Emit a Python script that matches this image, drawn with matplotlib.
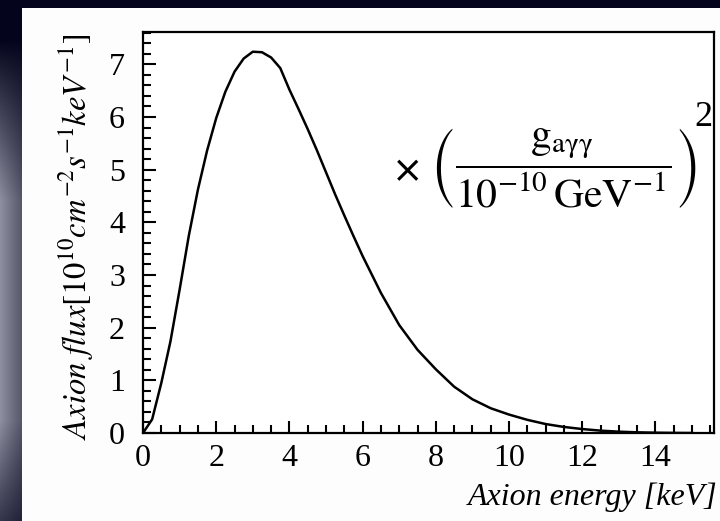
import numpy as np
import matplotlib
matplotlib.use("Agg")
import matplotlib.pyplot as plt
from matplotlib.patches import Rectangle
from matplotlib.ticker import MultipleLocator

# ---- data ----
energy = [0, 0.25, 0.5, 0.75, 1.0, 1.25, 1.5, 1.75, 2.0, 2.25, 2.5, 2.75, 3.0,
          3.25, 3.5, 3.75, 4.0, 4.25, 4.5, 4.75, 5.0, 5.25, 5.5, 5.75, 6.0,
          6.5, 7.0, 7.5, 8.0, 8.5, 9.0, 9.5, 10.0, 10.5, 11.0, 11.5, 12.0,
          12.5, 13.0, 13.5, 14.0, 14.5, 15.0]
flux = [0, 0.26, 0.95, 1.74, 2.72, 3.74, 4.62, 5.36, 5.98, 6.48, 6.86, 7.11,
        7.24, 7.23, 7.13, 6.93, 6.52, 6.15, 5.77, 5.37, 4.95, 4.53, 4.13, 3.74,
        3.36, 2.66, 2.05, 1.58, 1.21, 0.88, 0.64, 0.47, 0.35, 0.25, 0.17,
        0.115, 0.075, 0.045, 0.025, 0.013, 0.006, 0.002, 0.0]
x_ticks = [0, 2, 4, 6, 8, 10, 12, 14]
y_ticks = [0, 1, 2, 3, 4, 5, 6, 7]

plt.rcParams['mathtext.fontset'] = 'stix'
serif = 'Liberation Serif'

W, H = 720, 521
fig = plt.figure(figsize=(W / 100, H / 100), dpi=100)

# ---- background (dark navy with lighter left strip) ----
bg = fig.add_axes([0, 0, 1, 1], zorder=-10)
navy = np.array([4, 4, 28], float)
img = np.tile(navy, (H, W, 1))
yy = np.arange(H)
v = np.interp(yy, [0, 40, 200, 420, 521], [0, 0, 1, 1, 0.35])
edge_l = np.array([142, 142, 160], float)
edge_r = np.array([88, 88, 108], float)
for j in range(22):
    c = edge_l + (edge_r - edge_l) * j / 21
    img[:, j, :] = navy + v[:, None] * (c - navy)
bg.imshow(img / 255, aspect='auto', extent=[0, 1, 0, 1])
bg.axis('off')
fig.patches.append(Rectangle((22 / W, 0), 1 - 22 / W, (H - 8) / H,
                             transform=fig.transFigure, facecolor='#fdfdfd',
                             edgecolor='none', zorder=-5))

# ---- main axes ----
ax = fig.add_axes([143 / W, 88 / H, 571 / W, 401.3 / H])
ax.set_facecolor('white')
ax.plot(energy, flux, color='black', lw=1.8, solid_joinstyle='round')
ax.set_xlim(0, 15.6)
ax.set_ylim(0, 7.62)
ax.set_xticks(x_ticks)
ax.set_yticks(y_ticks)
ax.xaxis.set_minor_locator(MultipleLocator(0.5))
ax.yaxis.set_minor_locator(MultipleLocator(0.2))
ax.tick_params(which='both', direction='in', top=False, right=False, width=1.5)
ax.tick_params(which='major', length=9)
ax.tick_params(which='minor', length=5.5)
ax.tick_params(axis='x', pad=8)
ax.tick_params(axis='y', pad=13)
for lab in ax.get_xticklabels() + ax.get_yticklabels():
    lab.set_fontfamily(serif)
    lab.set_fontsize(23)
for s in ax.spines.values():
    s.set_linewidth(1.6)

# ---- axis labels ----
fig.text(718 / W, (H - 497) / H, 'Axion energy [keV]', family=serif,
         style='italic', fontsize=23, ha='right', va='center')
fig.text(76 / W, (H - 237) / H,
         r'$\mathit{Axion\ flux[10^{10}cm^{-2}s^{-1}keV^{-1}]}$',
         fontsize=23.5, rotation=90, ha='center', va='center')

# ---- coupling factor annotation ----
fig.text(408 / W, (H - 172) / H, '×', family='DejaVu Sans', fontsize=27,
         ha='center', va='center')
fig.text(430 / W, (H - 210) / H,
         r'$\left(\dfrac{\mathrm{g}_{\mathrm{a\gamma\gamma}}}'
         r'{10^{-10}\,\mathrm{GeV}^{-1}}\right)$',
         fontsize=30, ha='left', va='bottom')
fig.text(703 / W, (H - 118) / H, '2', family=serif, fontsize=26,
         ha='center', va='center')

fig.savefig('out.png', dpi=100)
